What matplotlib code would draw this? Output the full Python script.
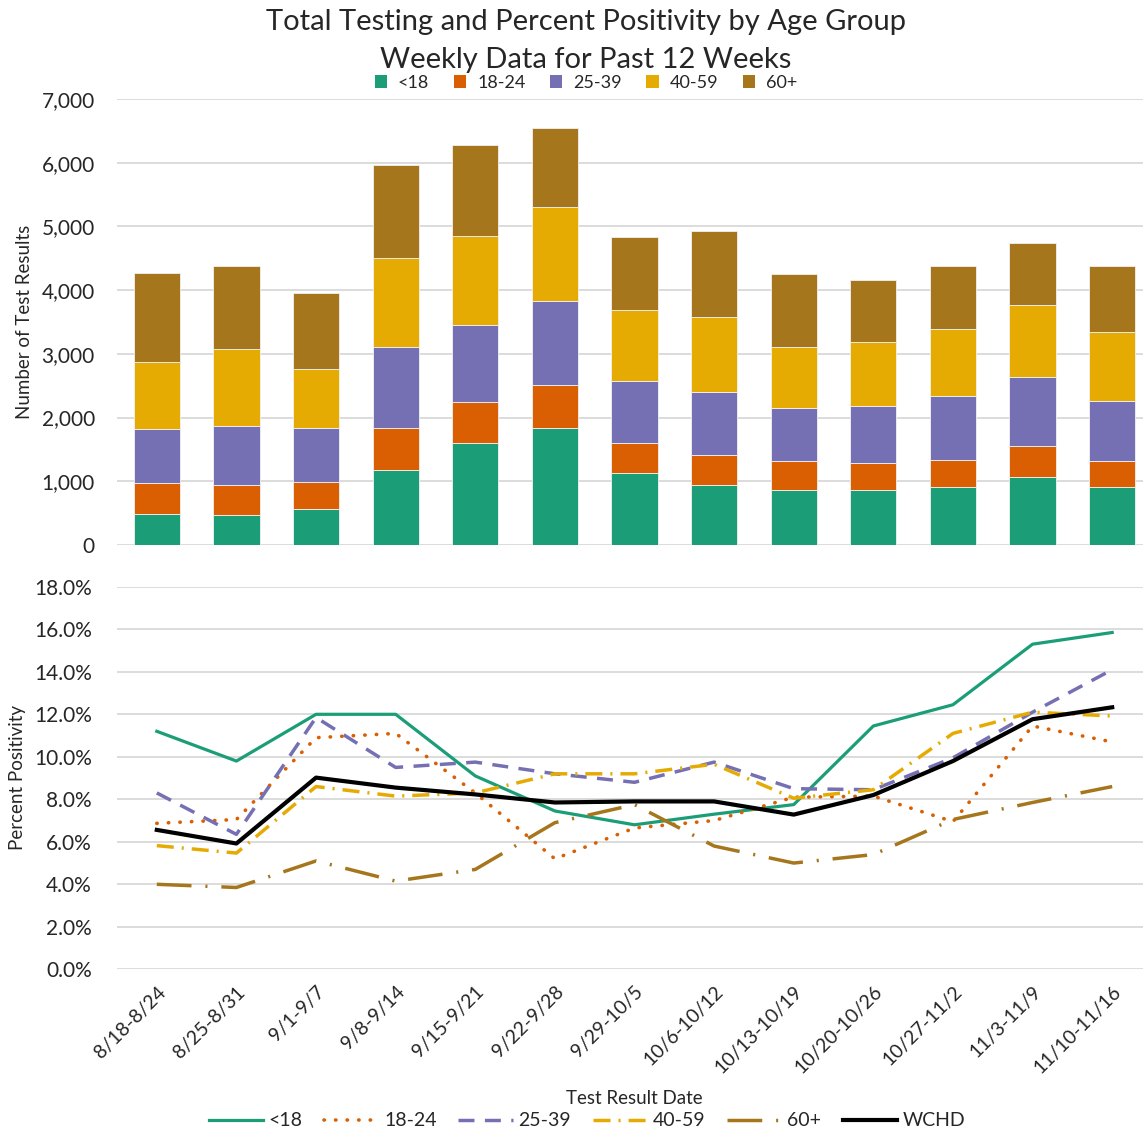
import matplotlib
matplotlib.use("Agg")
import matplotlib.pyplot as plt
from matplotlib.patches import Patch
from matplotlib.lines import Line2D
from matplotlib.ticker import FuncFormatter
import numpy as np

plt.rcParams['font.family'] = ['Lato', 'DejaVu Sans']

weeks = ["8/18-8/24", "8/25-8/31", "9/1-9/7", "9/8-9/14", "9/15-9/21", "9/22-9/28",
         "9/29-10/5", "10/6-10/12", "10/13-10/19", "10/20-10/26", "10/27-11/2",
         "11/3-11/9", "11/10-11/16"]
groups = ["<18", "18-24", "25-39", "40-59", "60+"]
colors = ["#1B9E77", "#D95F02", "#7570B3", "#E6AB02", "#A6761D"]

# weekly test counts by age group
tests_u18 = [491, 466, 570, 1182, 1601, 1841, 1125, 942, 863, 863, 915, 1072, 915]
tests_18_24 = [477, 476, 424, 659, 639, 665, 476, 476, 450, 424, 424, 477, 398]
tests_25_39 = [848, 921, 847, 1267, 1213, 1319, 978, 979, 842, 900, 1005, 1083, 947]
tests_40_59 = [1051, 1218, 921, 1402, 1402, 1475, 1110, 1187, 953, 999, 1051, 1135, 1083]
tests_60p = [1397, 1293, 1188, 1449, 1418, 1240, 1141, 1345, 1141, 979, 979, 978, 1031]

# percent positivity (%)
pos_u18 = [11.2, 9.8, 12.0, 12.0, 9.1, 7.45, 6.8, 7.3, 7.75, 11.45, 12.45, 15.3, 15.85]
pos_18_24 = [6.87, 7.05, 10.9, 11.1, 8.3, 5.2, 6.65, 7.0, 8.1, 8.15, 6.95, 11.45, 10.7]
pos_25_39 = [8.3, 6.35, 11.85, 9.5, 9.75, 9.2, 8.8, 9.75, 8.5, 8.45, 9.95, 12.1, 14.1]
pos_40_59 = [5.82, 5.47, 8.6, 8.15, 8.3, 9.2, 9.2, 9.65, 8.05, 8.45, 11.1, 12.1, 11.92]
pos_60p = [4.0, 3.85, 5.1, 4.15, 4.7, 6.9, 7.75, 5.8, 5.0, 5.4, 7.05, 7.85, 8.6]
pos_wchd = [6.56, 5.92, 9.02, 8.55, 8.23, 7.85, 7.9, 7.9, 7.28, 8.2, 9.8, 11.77, 12.33]

grid_col = "#D9D9D9"
x = np.arange(len(weeks))

fig = plt.figure(figsize=(11.43, 11.34), dpi=100)

# ---- top: stacked bars ----
ax1 = fig.add_axes([117 / 1143, 1 - 545 / 1134, 1035 / 1143, 446 / 1134])
bottom = np.zeros(len(weeks))
for vals, col in zip([tests_u18, tests_18_24, tests_25_39, tests_40_59, tests_60p], colors):
    ax1.bar(x, vals, 0.58, bottom=bottom, color=col, edgecolor="#F2F2F2", linewidth=0.6, zorder=3)
    bottom += np.array(vals)
ax1.set_xlim(-0.5, 12.5)
ax1.set_ylim(0, 7000)
ax1.set_yticks(range(0, 7001, 1000))
ax1.yaxis.set_major_formatter(FuncFormatter(lambda v, p: f"{v:,.0f}"))
ax1.set_xticks([])
ax1.grid(axis="y", color=grid_col, linewidth=1.3, zorder=0)
for s in ax1.spines.values():
    s.set_visible(False)
ax1.tick_params(axis="y", length=0, labelsize=15, pad=16, labelcolor="#262626")
fig.text(25 / 1143, 1 - 322 / 1134, "Number of Test Results", rotation=90, ha="center", va="center",
         fontsize=13.5, color="#262626")

# ---- bottom: positivity lines ----
ax2 = fig.add_axes([117 / 1143, 1 - 969.3 / 1134, 1035 / 1143, 382.5 / 1134])
dot_ls = (0, (0.1, 3.1))
styles = [
    (pos_u18, colors[0], "-", 2.3),
    (pos_18_24, colors[1], dot_ls, 2.6),
    (pos_25_39, colors[2], (0, (4.6, 3.0)), 2.5),
    (pos_40_59, colors[3], (0, (4.9, 2.3, 0.6, 2.3)), 2.5),
    (pos_60p, colors[4], (0, (10, 4, 0.6, 4)), 2.5),
    (pos_wchd, "black", "-", 3.0),
]
handles = []
for (vals, col, ls, lw), name in zip(styles, groups + ["WCHD"]):
    cap = "round" if ls == dot_ls else "butt"
    ax2.plot(x, np.array(vals) / 100, color=col, linestyle=ls, linewidth=lw,
             dash_capstyle=cap, zorder=3)
    handles.append(Line2D([], [], color=col, linestyle=ls, linewidth=lw,
                          dash_capstyle=cap, label=name))
ax2.set_xlim(-0.5, 12.5)
ax2.set_ylim(0, 0.18)
ax2.set_yticks(np.arange(0, 0.181, 0.02))
ax2.yaxis.set_major_formatter(FuncFormatter(lambda v, p: f"{v * 100:.1f}%"))
ax2.set_xticks(x)
ax2.set_xticklabels(weeks, rotation=45, ha="right", rotation_mode="anchor")
ax2.grid(axis="y", color=grid_col, linewidth=1.3, zorder=0)
for s in ax2.spines.values():
    s.set_visible(False)
ax2.tick_params(axis="y", length=0, labelsize=15, pad=18, labelcolor="#262626")
ax2.tick_params(axis="x", length=0, labelsize=14, pad=10, labelcolor="#262626")
fig.text(18 / 1143, 1 - 778 / 1134, "Percent Positivity", rotation=90, ha="center", va="center",
         fontsize=13.5, color="#262626")
fig.text(634 / 1143, 1 - 1099 / 1134, "Test Result Date", ha="center", va="center",
         fontsize=13.5, color="#262626")

# titles and legends
fig.text(586 / 1143, 1 - 22 / 1134, "Total Testing and Percent Positivity by Age Group",
         ha="center", va="center", fontsize=21, color="#262626")
fig.text(586 / 1143, 1 - 60 / 1134, "Weekly Data for Past 12 Weeks",
         ha="center", va="center", fontsize=21, color="#262626")

bar_handles = [Patch(facecolor=c, label=g) for c, g in zip(colors, groups)]
fig.legend(handles=bar_handles, loc="center", bbox_to_anchor=(586 / 1143, 1 - 83 / 1134),
           ncol=5, frameon=False, fontsize=13, handlelength=0.7, handleheight=0.7,
           handletextpad=0.6, columnspacing=1.35, labelcolor="#262626")
fig.legend(handles=handles, loc="center", bbox_to_anchor=(587 / 1143, 1 - 1121 / 1134),
           ncol=6, frameon=False, fontsize=14, handlelength=2.8, handletextpad=0.3,
           columnspacing=1.1, labelcolor="#262626")

fig.savefig("out.png", dpi=100)
